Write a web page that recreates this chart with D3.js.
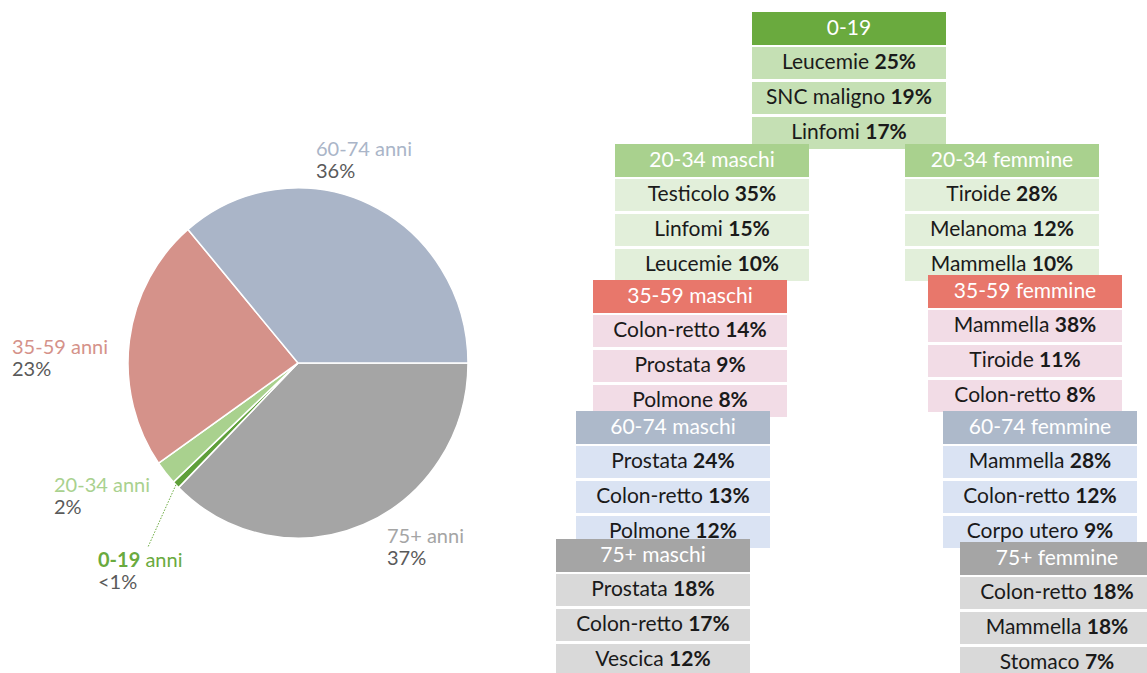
<!DOCTYPE html>
<meta charset="UTF-8">
<svg width="1147" height="673"></svg>
<style>
body { margin: 0; background: #fff; }
svg { display: block; font-family: Lato, "Open Sans", sans-serif; }
.hdr { fill: #fff; font-size: 21px; }
.row { fill: #1a1a1a; font-size: 21px; }
.pct { font-weight: bold; }
</style>
<script src="https://d3js.org/d3.v7.min.js"></script>
<script>
// pie data (clockwise from 3 o'clock)
var ageGroups = ["75+", "0-19", "20-34", "35-59", "60-74"]
var shares = [37.4, 0.7, 2.2, 23.5, 36.2]
var shareLabels = ["37%", "<1%", "2%", "23%", "36%"]
var sliceColors = ["#a5a5a5", "#5f9f3a", "#a9d18e", "#d5928a", "#aab5c8"]
var labelColors = ["#a5a5a5", "#6aaa3e", "#a9d18e", "#d5928a", "#aab5c8"]

// tables
var tableHeaders = ["0-19", "20-34 maschi", "20-34 femmine", "35-59 maschi", "35-59 femmine",
    "60-74 maschi", "60-74 femmine", "75+ maschi", "75+ femmine"]
var tableSites = [
    ["Leucemie", "SNC maligno", "Linfomi"],
    ["Testicolo", "Linfomi", "Leucemie"],
    ["Tiroide", "Melanoma", "Mammella"],
    ["Colon-retto", "Prostata", "Polmone"],
    ["Mammella", "Tiroide", "Colon-retto"],
    ["Prostata", "Colon-retto", "Polmone"],
    ["Mammella", "Colon-retto", "Corpo utero"],
    ["Prostata", "Colon-retto", "Vescica"],
    ["Colon-retto", "Mammella", "Stomaco"]
]
var tablePcts = [
    ["25%", "19%", "17%"],
    ["35%", "15%", "10%"],
    ["28%", "12%", "10%"],
    ["14%", "9%", "8%"],
    ["38%", "11%", "8%"],
    ["24%", "13%", "12%"],
    ["28%", "12%", "9%"],
    ["18%", "17%", "12%"],
    ["18%", "18%", "7%"]
]
var headerColors = ["#6aaa3e", "#a9d18e", "#a9d18e", "#e8776b", "#e8776b", "#adb9ca", "#adb9ca", "#a5a5a5", "#a5a5a5"]
var rowColors = ["#c5e0b4", "#e2efda", "#e2efda", "#f2dce6", "#f2dce6", "#dae3f3", "#dae3f3", "#d9d9d9", "#d9d9d9"]

// layout
var tableX = [752, 615, 905, 593, 928, 576, 943, 556, 960]
var tableY = [12, 144, 144, 280, 275, 411, 411, 539, 542]
var tableW = 194
var labelPos = [[387, 543], [98, 567], [54, 492], [12, 354], [316, 156]]

var svg = d3.select("svg")
svg.append("rect").attr("width", 1147).attr("height", 673).attr("fill", "#fff")

var cx = 298, cy = 363, r = 170
var pie = d3.pie().sort(null).value(d => d)
    .startAngle(Math.PI / 2).endAngle(Math.PI / 2 + 2 * Math.PI)
var arcs = pie(shares)
var arc = d3.arc().innerRadius(0).outerRadius(r)

var pieG = svg.append("g").attr("transform", "translate(" + cx + "," + cy + ") scale(1,1.03)")
pieG.selectAll("path")
    .data(arcs)
    .enter()
    .append("path")
    .attr("d", arc)
    .attr("fill", (d, i) => sliceColors[i])
    .attr("stroke", "#fff")
    .attr("stroke-width", 1.5)

// leader for the tiny slice
var a0 = (arcs[1].startAngle + arcs[1].endAngle) / 2
svg.append("line")
    .attr("x1", cx + Math.sin(a0) * r)
    .attr("y1", cy - Math.cos(a0) * r * 1.03)
    .attr("x2", labelPos[1][0] + 50)
    .attr("y2", labelPos[1][1] - 20)
    .attr("stroke", "#6aaa3e")
    .attr("stroke-width", 1)
    .attr("stroke-dasharray", "1.5,1.5")

var lab = svg.append("g").selectAll("text")
    .data(ageGroups)
    .enter()
    .append("text")
    .attr("x", (d, i) => labelPos[i][0])
    .attr("y", (d, i) => labelPos[i][1])
    .style("font-size", "20px")
lab.append("tspan")
    .attr("fill", (d, i) => labelColors[i])
    .style("font-weight", (d, i) => i == 1 ? "bold" : "normal")
    .text(d => d)
lab.append("tspan")
    .attr("fill", (d, i) => labelColors[i])
    .text(" anni")
lab.append("tspan")
    .attr("x", (d, i) => labelPos[i][0])
    .attr("dy", 22)
    .attr("fill", "#5a5a5a")
    .text((d, i) => shareLabels[i])

// tables
tableHeaders.forEach((h, t) => {
    var g = svg.append("g").attr("transform", "translate(" + tableX[t] + "," + tableY[t] + ")")
    g.append("rect").attr("width", tableW).attr("height", 33).attr("fill", headerColors[t])
    g.append("text").attr("class", "hdr")
        .attr("x", tableW / 2).attr("y", 15.5).attr("dy", "0.35em")
        .attr("text-anchor", "middle").text(h)
    var rows = g.selectAll("g.r")
        .data(tableSites[t])
        .enter()
        .append("g")
        .attr("class", "r")
        .attr("transform", (d, i) => "translate(0," + (35 + i * 35) + ")")
    rows.append("rect").attr("width", tableW).attr("height", 32).attr("fill", rowColors[t])
    var tx = rows.append("text").attr("class", "row")
        .attr("x", tableW / 2).attr("y", 15).attr("dy", "0.35em")
        .attr("text-anchor", "middle")
    tx.append("tspan").text(d => d + " ")
    tx.append("tspan").attr("class", "pct").text((d, i) => tablePcts[t][i])
})
</script>
